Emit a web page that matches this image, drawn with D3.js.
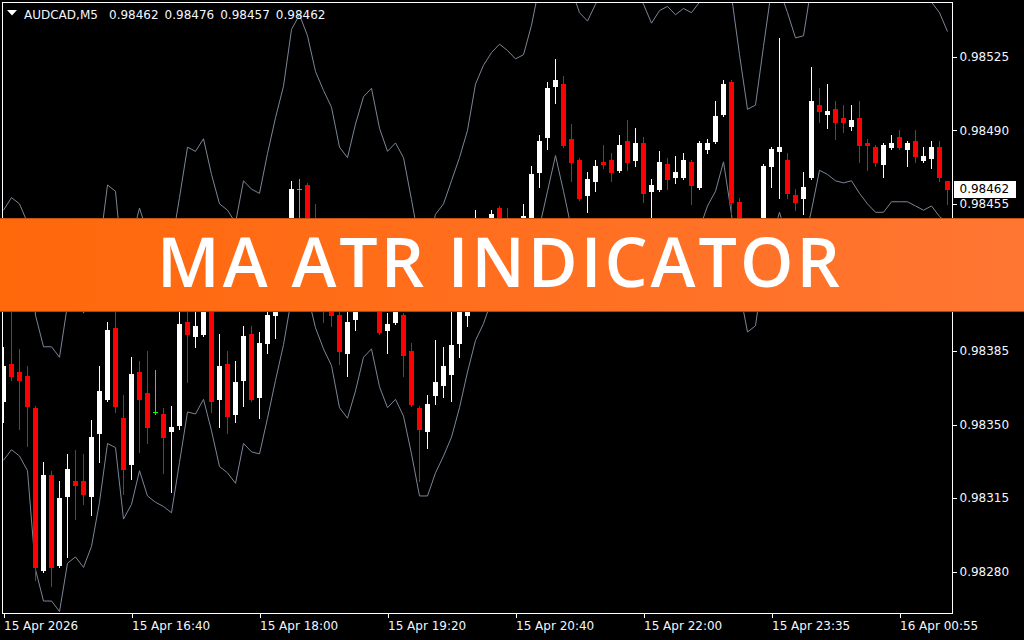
<!DOCTYPE html>
<html><head><meta charset="utf-8">
<script src="https://cdn.jsdelivr.net/npm/d3@7"></script>
<style>html,body{margin:0;padding:0;background:#000;overflow:hidden}</style>
</head><body>
<svg id="c" width="1024" height="640"></svg>
<script>
const symbolTitle = "AUDCAD,M5";
const headerValues = ["0.98462", "0.98476", "0.98457", "0.98462"];
const bannerTitle = "MA ATR INDICATOR";
const lastPrice = 0.98462;

const opens = [
0.98361,0.98379,0.98375,0.98373,0.98358,0.98281,0.98326,0.98283,0.98316,0.98323,
0.98323,0.98316,0.98346,0.98362,0.98396,0.98353,0.98331,0.98375,0.98365,0.98356,
0.98355,0.98347,0.98350,0.98399,0.98392,0.98393,0.98405,0.98362,0.98379,0.98355,
0.98371,0.98393,0.98363,0.98389,0.98402,0.98419,0.98435,0.98462,0.98464,0.98433,
0.98416,0.98409,0.98402,0.98384,0.98400,0.98414,0.98419,0.98409,0.98395,0.98399,
0.98402,0.98385,0.98358,0.98347,0.98364,0.98369,0.98374,0.98389,0.98402,0.98424,
0.98440,0.98438,0.98453,0.98438,0.98428,0.98435,0.98448,0.98470,0.98487,0.98511,
0.98512,0.98486,0.98476,0.98459,0.98466,0.98475,0.98476,0.98471,0.98485,0.98476,
0.98484,0.98461,0.98462,0.98474,0.98468,0.98468,0.98475,0.98463,0.98481,0.98485,
0.98498,0.98513,0.98456,0.98438,0.98424,0.98435,0.98473,0.98480,0.98476,0.98459,
0.98458,0.98468,0.98502,0.98498,0.98500,0.98496,0.98492,0.98496,0.98484,0.98482,
0.98474,0.98482,0.98487,0.98481,0.98485,0.98476,0.98477,0.98482,0.98466];

const highs = [
0.98387,0.98407,0.98386,0.98378,0.98359,0.98332,0.98328,0.98323,0.98336,0.98338,
0.98336,0.98352,0.98378,0.98399,0.98409,0.98364,0.98382,0.98380,0.98385,0.98376,
0.98358,0.98359,0.98407,0.98409,0.98409,0.98412,0.98409,0.98393,0.98385,0.98380,
0.98397,0.98397,0.98394,0.98407,0.98424,0.98439,0.98466,0.98467,0.98465,0.98455,
0.98424,0.98414,0.98409,0.98409,0.98418,0.98425,0.98421,0.98412,0.98403,0.98412,
0.98403,0.98389,0.98359,0.98364,0.98390,0.98387,0.98407,0.98419,0.98427,0.98452,
0.98445,0.98452,0.98454,0.98453,0.98440,0.98455,0.98473,0.98488,0.98513,0.98524,
0.98516,0.98493,0.98477,0.98470,0.98476,0.98483,0.98479,0.98488,0.98495,0.98491,
0.98487,0.98467,0.98480,0.98477,0.98478,0.98479,0.98476,0.98485,0.98486,0.98504,
0.98514,0.98514,0.98458,0.98442,0.98443,0.98474,0.98482,0.98534,0.98479,0.98462,
0.98470,0.98520,0.98510,0.98512,0.98504,0.98502,0.98502,0.98504,0.98486,0.98483,
0.98484,0.98488,0.98490,0.98485,0.98490,0.98482,0.98485,0.98485,0.98466];

const lows = [
0.98351,0.98371,0.98348,0.98340,0.98276,0.98280,0.98273,0.98282,0.98287,0.98305,
0.98312,0.98307,0.98332,0.98361,0.98356,0.98317,0.98324,0.98337,0.98341,0.98355,
0.98327,0.98318,0.98348,0.98370,0.98387,0.98392,0.98356,0.98349,0.98346,0.98351,
0.98359,0.98361,0.98353,0.98384,0.98391,0.98414,0.98433,0.98445,0.98426,0.98409,
0.98399,0.98397,0.98379,0.98373,0.98395,0.98411,0.98405,0.98393,0.98384,0.98398,
0.98373,0.98359,0.98323,0.98339,0.98360,0.98363,0.98361,0.98382,0.98397,0.98419,
0.98431,0.98433,0.98431,0.98421,0.98424,0.98432,0.98445,0.98463,0.98481,0.98503,
0.98482,0.98466,0.98457,0.98451,0.98461,0.98472,0.98466,0.98470,0.98471,0.98473,
0.98456,0.98440,0.98461,0.98462,0.98465,0.98467,0.98455,0.98462,0.98479,0.98484,
0.98497,0.98450,0.98428,0.98414,0.98416,0.98431,0.98463,0.98458,0.98458,0.98452,
0.98450,0.98467,0.98494,0.98491,0.98486,0.98489,0.98490,0.98475,0.98471,0.98473,
0.98468,0.98481,0.98481,0.98473,0.98475,0.98475,0.98472,0.98466,0.98455];

const closes = [
0.98378,0.98373,0.98371,0.98359,0.98282,0.98326,0.98282,0.98315,0.98329,0.98321,
0.98317,0.98344,0.98366,0.98395,0.98359,0.98329,0.98374,0.98362,0.98349,0.98356,
0.98344,0.98349,0.98398,0.98393,0.98397,0.98407,0.98361,0.98378,0.98354,0.98370,
0.98392,0.98362,0.98389,0.98402,0.98419,0.98435,0.98462,0.98462,0.98433,0.98416,
0.98409,0.98402,0.98385,0.98399,0.98414,0.98419,0.98409,0.98394,0.98398,0.98407,
0.98383,0.98360,0.98348,0.98360,0.98370,0.98378,0.98388,0.98414,0.98424,0.98440,
0.98438,0.98450,0.98438,0.98428,0.98435,0.98449,0.98469,0.98485,0.98510,0.98514,
0.98483,0.98475,0.98458,0.98467,0.98473,0.98474,0.98470,0.98483,0.98475,0.98484,
0.98460,0.98464,0.98475,0.98467,0.98470,0.98476,0.98464,0.98484,0.98484,0.98497,
0.98512,0.98456,0.98438,0.98424,0.98435,0.98473,0.98481,0.98482,0.98460,0.98456,
0.98463,0.98504,0.98499,0.98499,0.98494,0.98494,0.98495,0.98483,0.98483,0.98475,
0.98483,0.98484,0.98482,0.98484,0.98478,0.98478,0.98482,0.98468,0.98462];

const upperBand = [
0.98452,0.98458,0.98455,0.98446,0.98402,0.98387,0.98387,0.98382,0.98407,0.98424,
0.98403,0.98416,0.98434,0.98464,0.98461,0.98421,0.98438,0.98453,0.98441,0.98433,
0.98431,0.98435,0.98458,0.98482,0.98480,0.98486,0.98469,0.98455,0.98452,0.98446,
0.98466,0.98462,0.98460,0.98479,0.98496,0.98511,0.98538,0.98545,0.98535,0.98518,
0.98509,0.98501,0.98482,0.98477,0.98493,0.98506,0.98510,0.98491,0.98480,0.98484,
0.98477,0.98457,0.98436,0.98435,0.98450,0.98455,0.98466,0.98477,0.98490,0.98512,
0.98521,0.98527,0.98531,0.98528,0.98524,0.98526,0.98540,0.98559,0.98566,0.98571,
0.98566,0.98557,0.98546,0.98542,0.98550,0.98557,0.98561,0.98564,0.98561,0.98557,
0.98550,0.98541,0.98547,0.98549,0.98545,0.98548,0.98546,0.98551,0.98559,0.98566,
0.98566,0.98554,0.98526,0.98500,0.98502,0.98530,0.98557,0.98557,0.98546,0.98534,
0.98535,0.98559,0.98566,0.98571,0.98573,0.98571,0.98569,0.98569,0.98566,0.98566,
0.98564,0.98561,0.98559,0.98558,0.98554,0.98551,0.98551,0.98546,0.98537];

const lowerBand = [
0.98333,0.98338,0.98335,0.98328,0.98281,0.98266,0.98266,0.98261,0.98284,0.98287,
0.98282,0.98292,0.98313,0.98341,0.98339,0.98305,0.98312,0.98328,0.98316,0.98313,
0.98311,0.98308,0.98332,0.98356,0.98355,0.98362,0.98347,0.98330,0.98327,0.98322,
0.98341,0.98337,0.98336,0.98353,0.98371,0.98388,0.98410,0.98421,0.98412,0.98396,
0.98386,0.98378,0.98358,0.98353,0.98366,0.98382,0.98386,0.98368,0.98358,0.98362,
0.98354,0.98336,0.98316,0.98316,0.98327,0.98335,0.98344,0.98358,0.98375,0.98390,
0.98398,0.98409,0.98416,0.98424,0.98426,0.98431,0.98435,0.98444,0.98461,0.98478,
0.98461,0.98443,0.98435,0.98431,0.98426,0.98424,0.98421,0.98424,0.98426,0.98424,
0.98421,0.98414,0.98419,0.98421,0.98424,0.98428,0.98435,0.98443,0.98454,0.98461,
0.98475,0.98450,0.98414,0.98394,0.98397,0.98424,0.98438,0.98451,0.98438,0.98433,
0.98435,0.98452,0.98471,0.98469,0.98466,0.98465,0.98466,0.98460,0.98455,0.98451,
0.98451,0.98456,0.98456,0.98456,0.98454,0.98452,0.98454,0.98449,0.98446];

const priceTicks = [0.98525, 0.98490, 0.98455, 0.98420, 0.98385, 0.98350, 0.98315, 0.98280];
const timeTickIndex = [0, 16, 32, 48, 64, 80, 96, 112];
const timeTickLabels = ["15 Apr 2026", "15 Apr 16:40", "15 Apr 18:00", "15 Apr 19:20",
                        "15 Apr 20:40", "15 Apr 22:00", "15 Apr 23:35", "16 Apr 00:55"];

const W = 1024, H = 640;
const plotL = 3, plotR = 952, plotT = 3, plotB = 613;
const FONT = "'DejaVu Sans', Verdana, sans-serif";
const TXT = "#f2f6ff";

const svg = d3.select("#c");
svg.append("rect").attr("width", W).attr("height", H).attr("fill", "#000");

const x = d3.scaleLinear().domain([0, opens.length - 1]).range([3.5, 947.5]);
const y = d3.scaleLinear().domain([0.982603, 0.985506]).range([plotB, plotT]);

const defs = svg.append("defs");
defs.append("clipPath").attr("id", "clip").append("rect")
  .attr("x", plotL).attr("y", plotT).attr("width", plotR - plotL).attr("height", plotB - plotT);
const grad = defs.append("linearGradient").attr("id", "bannerGrad")
  .attr("x1", "0%").attr("x2", "100%").attr("y1", "0%").attr("y2", "0%");
grad.append("stop").attr("offset", "0%").attr("stop-color", "#ff680b");
grad.append("stop").attr("offset", "100%").attr("stop-color", "#ff7633");

const plot = svg.append("g").attr("clip-path", "url(#clip)");

// MA ATR bands
const bandLine = d3.line().x((d, i) => x(i)).y(d => y(d));
[upperBand, lowerBand].forEach(band => {
  plot.append("path").datum(band).attr("d", bandLine)
    .attr("fill", "none").attr("stroke", "#7a8697").attr("stroke-width", 1);
});

const candles = opens.map((o, i) => ({ i, o, h: highs[i], l: lows[i], c: closes[i] }));
const colorOf = d => d.c > d.o ? "#ffffff" : (d.c < d.o ? "#ff0000" : "#00ff00");

plot.selectAll("line.wick").data(candles).join("line").attr("class", "wick")
  .attr("x1", d => x(d.i)).attr("x2", d => x(d.i))
  .attr("y1", d => Math.round(y(d.h))).attr("y2", d => Math.round(y(d.l)) + 1)
  .attr("stroke", colorOf).attr("stroke-width", 1).attr("shape-rendering", "crispEdges");

plot.selectAll("rect.body").data(candles.filter(d => d.c !== d.o)).join("rect").attr("class", "body")
  .attr("x", d => x(d.i) - 2.5).attr("width", 5)
  .attr("y", d => Math.round(y(Math.max(d.o, d.c))))
  .attr("height", d => Math.max(1, Math.round(y(Math.min(d.o, d.c))) - Math.round(y(Math.max(d.o, d.c))) + 1))
  .attr("fill", colorOf).attr("shape-rendering", "crispEdges");

plot.selectAll("line.doji").data(candles.filter(d => d.c === d.o)).join("line").attr("class", "doji")
  .attr("x1", d => x(d.i) - 2.5).attr("x2", d => x(d.i) + 2.5)
  .attr("y1", d => Math.round(y(d.o)) + 0.5).attr("y2", d => Math.round(y(d.o)) + 0.5)
  .attr("stroke", "#00ff00").attr("stroke-width", 1).attr("shape-rendering", "crispEdges");

// frame
svg.append("rect").attr("x", plotL - 0.5).attr("y", plotT - 0.5)
  .attr("width", plotR - plotL + 1).attr("height", plotB - plotT + 1)
  .attr("fill", "none").attr("stroke", "#ffffff").attr("stroke-width", 1)
  .attr("shape-rendering", "crispEdges");

// price axis
const yAxis = svg.append("g").attr("transform", `translate(${plotR + 0.5},0)`)
  .call(d3.axisRight(y).tickValues(priceTicks).tickSize(4).tickPadding(3).tickFormat(d3.format(".5f")));
yAxis.select(".domain").remove();
yAxis.selectAll("line").attr("stroke", "#fff").attr("shape-rendering", "crispEdges");
yAxis.selectAll("text").attr("fill", TXT).attr("font-family", FONT).attr("font-size", "12px");

// time axis
const xAxis = svg.append("g").attr("transform", `translate(0,${plotB + 0.5})`)
  .call(d3.axisBottom(x).tickValues(timeTickIndex).tickSize(4)
    .tickFormat((d, i) => timeTickLabels[i]));
xAxis.select(".domain").remove();
xAxis.selectAll("line").attr("stroke", "#fff").attr("shape-rendering", "crispEdges");
xAxis.selectAll("text").attr("fill", TXT).attr("font-family", FONT).attr("font-size", "12px")
  .attr("text-anchor", "start").attr("y", 8);

// header
svg.append("path").attr("d", d3.line()([[7, 10], [17, 10], [12, 15.5]]) + "Z").attr("fill", "#fff");
const header = svg.append("text").attr("y", 19).attr("fill", TXT)
  .attr("font-family", FONT).attr("font-size", "12px");
header.append("tspan").attr("x", 24).text(symbolTitle);
headerValues.forEach((v, i) => header.append("tspan").attr("x", 109 + i * 55.6).text(v));

// banner
svg.append("rect").attr("x", 0).attr("y", 218).attr("width", W).attr("height", 94).attr("fill", "url(#bannerGrad)");
svg.append("line").attr("x1", 0).attr("x2", W).attr("y1", 218.5).attr("y2", 218.5)
  .attr("stroke", "#c4540f").attr("stroke-width", 1);
svg.append("line").attr("x1", 0).attr("x2", W).attr("y1", 311.5).attr("y2", 311.5)
  .attr("stroke", "#a8480d").attr("stroke-width", 1);
svg.append("text").attr("x", 500).attr("y", 287).attr("text-anchor", "middle")
  .attr("fill", "#ffffff").attr("font-family", "'Open Sans', 'Noto Sans', sans-serif")
  .attr("font-weight", 600).attr("font-size", "68px").attr("letter-spacing", "3px")
  .text(bannerTitle);

// last price tag
const py = y(lastPrice);
svg.append("rect").attr("x", 954).attr("y", Math.round(py) - 8).attr("width", 62).attr("height", 17)
  .attr("fill", "#ffffff");
svg.append("text").attr("x", 959.5).attr("y", py).attr("dy", "0.36em")
  .attr("fill", "#000").attr("font-family", FONT).attr("font-size", "12px")
  .text(d3.format(".5f")(lastPrice));
</script>
</body></html>
